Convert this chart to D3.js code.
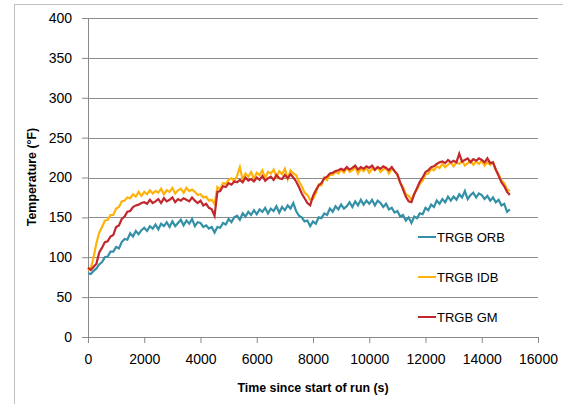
<!DOCTYPE html>
<html>
<head>
<meta charset="UTF-8">
<style>
  body{margin:0;background:#fff}
  svg{display:block;font-family:'Liberation Sans',Arial,sans-serif}
  .axis path,.axis line{stroke:#898989}
  .axis text{fill:#000;font-size:14px}
  .grid line{stroke:#8c8c8c}
  .title{font-weight:bold;font-size:12.4px;fill:#000}
  .legend text{font-size:13px;fill:#000}
</style>
</head>
<body>
<div id="chart"></div>
<script src="https://cdn.jsdelivr.net/npm/d3@7"></script>
<script>
// sampled every 100 s, 0..15000 s
const times = d3.range(0, 15001, 100);
const xTicks = [0,2000,4000,6000,8000,10000,12000,14000,16000];
const yTicks = [0,50,100,150,200,250,300,350,400];
const seriesNames = ["TRGB ORB","TRGB IDB","TRGB GM"];

const orb = [
  80,79,83,86,91,94,100,101,107,107,
  113,111,119,123,122,130,126,133,129,134,
  137,133,139,136,141,135,142,139,144,138,
  145,139,143,147,140,146,142,148,139,144,
  143,138,140,136,138,131,138,137,143,141,
  148,144,150,152,147,155,151,157,153,159,
  154,160,157,162,155,161,158,164,156,163,
  159,165,161,168,158,152,150,145,146,139,
  145,142,150,149,155,153,161,157,164,160,
  166,161,164,169,163,170,165,172,166,171,
  167,172,165,171,168,163,167,160,162,156,
  158,151,153,146,150,143,151,149,155,154,
  162,159,166,163,171,167,173,169,176,171,
  176,172,179,175,183,173,178,181,175,180,
  178,173,177,171,175,169,172,165,167,157,
  160];
const idb = [
  84,86,100,118,131,138,146,147,153,153,
  161,163,170,171,175,174,179,176,182,177,
  182,179,184,180,183,181,186,179,184,182,
  187,180,184,186,181,187,183,185,182,178,
  179,175,176,171,172,167,188,185,193,192,
  197,199,195,202,213,197,205,201,207,198,
  206,203,209,199,207,205,210,201,208,204,
  211,198,209,205,203,195,189,181,178,172,
  173,180,191,190,200,197,204,203,207,205,
  210,206,212,207,209,213,205,211,208,212,
  206,211,209,213,207,210,212,205,211,208,
  203,193,188,179,177,172,180,185,192,196,
  204,205,211,209,214,212,217,213,216,219,
  214,219,217,221,215,218,221,216,220,217,
  221,215,219,216,219,209,204,196,193,185,
  183];
const gm = [
  87,84,88,92,106,112,119,120,126,128,
  138,140,148,151,157,158,163,165,166,168,
  169,167,172,168,170,173,168,174,170,172,
  175,169,173,171,174,172,170,175,171,168,
  171,165,167,162,160,152,182,183,189,188,
  193,191,195,194,197,194,200,196,198,195,
  200,197,202,196,199,201,197,203,199,198,
  203,199,204,200,195,188,180,174,168,165,
  177,184,190,193,199,201,205,206,208,209,
  211,209,213,210,212,215,210,213,211,214,
  212,215,210,213,211,214,212,209,213,208,
  204,194,185,176,170,169,179,187,195,200,
  207,209,213,214,217,219,220,218,222,219,
  221,219,230,220,222,224,219,223,221,224,
  222,219,224,218,219,210,202,194,189,182,
  178];

const colors = ["#3390a6","#ffb20a","#c1272d"];
const seriesData = [orb, idb, gm];

const W = 563, H = 404;
const m = {left:88, right:25, top:18, bottom:67};
const w = W - m.left - m.right, h = H - m.top - m.bottom;

const root = d3.select("#chart").append("svg").attr("width",W).attr("height",H);

// outer chart frame
root.append("rect").attr("x",14.5).attr("y",4.5).attr("width",600).attr("height",500)
    .attr("fill","none").attr("stroke","#bfbfbf");

const svg = root.append("g").attr("transform",`translate(${m.left},${m.top})`);

const x = d3.scaleLinear().domain([0,16000]).range([0,w]);
const y = d3.scaleLinear().domain([0,400]).range([h,0]);

// horizontal gridlines
svg.append("g").attr("class","grid")
   .selectAll("line").data(yTicks.slice(1)).join("line")
   .attr("x1",0).attr("x2",w)
   .attr("y1",d=>Math.round(y(d))+0.5).attr("y2",d=>Math.round(y(d))+0.5);

// axes
const yAxisG = svg.append("g").attr("class","axis")
   .call(d3.axisLeft(y).tickValues(yTicks).tickSize(6).tickPadding(10).tickSizeOuter(0));
yAxisG.select(".domain").remove();
yAxisG.append("line").attr("x1",0.5).attr("x2",0.5).attr("y1",0).attr("y2",h).attr("stroke","#898989");

const xAxisG = svg.append("g").attr("class","axis").attr("transform",`translate(0,${h})`)
   .call(d3.axisBottom(x).tickValues(xTicks).tickFormat(d3.format("d"))
           .tickSize(6).tickPadding(11).tickSizeOuter(0));

// series
const line = d3.line().x((d,i)=>x(times[i])).y(d=>y(d));
svg.append("g").selectAll("path").data(seriesData).join("path")
   .attr("fill","none").attr("stroke",(d,i)=>colors[i]).attr("stroke-width",2.2)
   .attr("stroke-linejoin","miter")
   .attr("d",line);

// legend
const legend = svg.append("g").attr("class","legend")
   .selectAll("g").data(seriesNames).join("g")
   .attr("transform",(d,i)=>`translate(330,${219 + i*40})`);
legend.append("line").attr("x1",0).attr("x2",18).attr("y1",0).attr("y2",0)
   .attr("stroke",(d,i)=>colors[i]).attr("stroke-width",2);
legend.append("text").attr("x",19).attr("y",5).text(d=>d);

// axis titles
root.append("text").attr("class","title")
   .attr("x",313).attr("y",392).attr("text-anchor","middle")
   .text("Time since start of run (s)");
root.append("text").attr("class","title")
   .attr("transform","translate(36,177) rotate(-90)").attr("text-anchor","middle")
   .text("Temperature (°F)");
</script>
</body>
</html>
